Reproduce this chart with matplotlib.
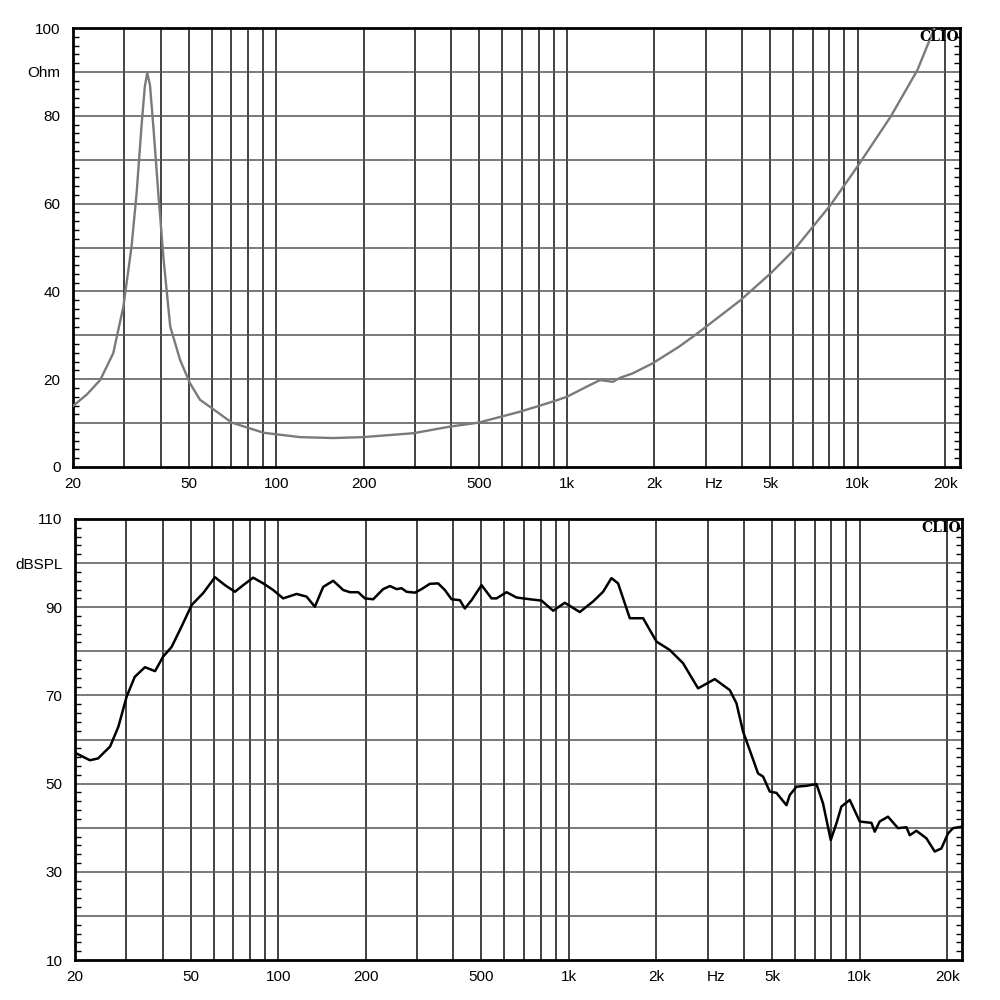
import matplotlib.pyplot as plt
from matplotlib.ticker import MultipleLocator

plt.rcParams['font.family'] = ['Liberation Sans', 'DejaVu Sans']

# impedance curve (Hz, Ohm)
imp_freq = [20, 22.3, 24.8, 27.5, 29.8, 31.8, 33.1, 34.4, 35.3, 36.0, 36.8, 37.8, 39.3,
            41.0, 43.2, 46.7, 50.5, 54.7, 59.2, 70.4, 90.5, 121, 157, 198, 297,
            396, 496, 690, 895, 1000, 1170, 1300, 1440, 1520, 1680, 1970, 2430,
            2807, 3956, 5017, 6036, 8072, 9977, 12990, 16050, 18080, 18600]
imp_ohm = [13.9, 16.5, 19.8, 25.9, 36.5, 50.2, 62.4, 77.5, 86.5, 89.8, 87.0, 77.5, 62.4,
           47.2, 32.0, 24.4, 19.1, 15.3, 13.7, 10.1, 7.8, 6.8, 6.6, 6.8, 7.7,
           9.2, 10.1, 12.6, 14.9, 16.0, 18.3, 19.8, 19.4, 20.3, 21.3, 23.6, 27.4,
           30.4, 38.0, 44.1, 49.4, 59.7, 68.4, 79.8, 90.4, 98.8, 101]

# SPL curve (Hz, dB)
spl_freq = [20, 22.5, 24.0, 26.4, 28.2, 30.1, 32.1, 34.8, 37.7, 40.2, 43.0, 46.5,
            50.4, 55.2, 60.6, 65.6, 71.0, 75.8, 82.0, 88.8, 96.1, 104, 115.7, 125.2,
            133.7, 142.8, 154.6, 167.3, 176.4, 188.4, 198.7, 212.2, 229.6, 242.2,
            255.5, 265.7, 276.4, 295.2, 311.3, 332.4, 354.9, 374.3, 394.8, 421.6,
            438.5, 462.6, 500.6, 541.8, 563.6, 610.3, 660.3, 733.9, 805.1, 882.5,
            968, 1090, 1211, 1311, 1401, 1476, 1620, 1800, 2001, 2223, 2470, 2782,
            3175, 3576, 3771, 3972, 4188, 4473, 4654, 4909, 5174, 5602, 5750, 6064,
            6564, 7105, 7484, 7956, 8324, 8658, 9248, 10010, 10980, 11270, 11720,
            12520, 13550, 14490, 14870, 15680, 16970, 18130, 19110, 20140, 20950, 22390]
spl_db = [57.0, 55.3, 55.7, 58.4, 62.9, 69.7, 74.2, 76.4, 75.5, 78.8, 81.0, 85.6,
          90.5, 93.2, 96.8, 95.0, 93.5, 95.0, 96.7, 95.4, 93.9, 92.0, 93.0, 92.4,
          90.1, 94.6, 96.0, 93.9, 93.4, 93.4, 92.0, 91.8, 94.1, 94.8,
          94.1, 94.3, 93.5, 93.3, 94.1, 95.3, 95.4, 93.9, 91.8, 91.6,
          89.7, 91.6, 95.0, 92.0, 92.0, 93.4, 92.2, 91.8, 91.5, 89.2,
          91.0, 88.9, 91.3, 93.5, 96.6, 95.4, 87.5, 87.5, 82.2, 80.3, 77.3, 71.6,
          73.7, 71.2, 68.2, 61.8, 57.6, 52.3, 51.6, 48.2, 47.9, 45.1, 47.4, 49.3,
          49.5, 49.9, 45.5, 37.2, 41.0, 44.8, 46.3, 41.4, 41.1, 39.1, 41.4,
          42.5, 39.9, 40.1, 38.3, 39.3, 37.6, 34.6, 35.3, 38.7, 39.9, 40.2]

# vertical grid frequencies and x labels
grid_freq = [30, 40, 50, 60, 70, 80, 90, 100, 200, 300, 400, 500, 600, 700, 800, 900,
             1000, 2000, 3000, 4000, 5000, 6000, 7000, 8000, 9000, 10000, 20000]
xlabel_pos = [20, 50, 100, 200, 500, 1000, 2000, 3220, 5000, 10000, 20000]
xlabel_txt = ['20', '50', '100', '200', '500', '1k', '2k', 'Hz', '5k', '10k', '20k']

imp_ticks = list(range(0, 101, 10))
imp_labels = ['0', '', '20', '', '40', '', '60', '', '80', 'Ohm', '100']
spl_ticks = list(range(10, 111, 10))
spl_labels = ['10', '', '30', '', '50', '', '70', '', '90', 'dBSPL', '110']

fig = plt.figure(figsize=(10, 10), dpi=100)
ax1 = fig.add_axes([0.073, 0.533, 0.887, 0.439])
ax2 = fig.add_axes([0.075, 0.040, 0.887, 0.441])


def style(ax, yticks, ylabels, ylim):
    ax.set_xscale('log')
    ax.set_xlim(20, 22500)
    ax.set_ylim(*ylim)
    for f in grid_freq:
        ax.axvline(f, color='#222222', lw=1.2, zorder=1)
    for y in yticks[1:-1]:
        ax.axhline(y, color='#555555', lw=1.1, zorder=1)
    ax.set_xticks(xlabel_pos, xlabel_txt)
    ax.xaxis.set_minor_locator(plt.NullLocator())
    ax.tick_params(axis='x', length=0, pad=7, labelsize=11)
    ax.set_yticks(yticks, ylabels)
    ax.yaxis.set_minor_locator(MultipleLocator(2))
    ax.tick_params(axis='y', which='major', length=0, pad=9, labelsize=11)
    ax.tick_params(axis='y', which='minor', direction='in', length=4, width=1,
                   left=True, right=True)
    for s in ax.spines.values():
        s.set_linewidth(2)
    ax.text(0.999, 0.996, 'CLIO', transform=ax.transAxes, ha='right', va='top',
            fontsize=10, fontweight='bold', family='DejaVu Serif', zorder=5)


style(ax1, imp_ticks, imp_labels, (0, 100))
style(ax2, spl_ticks, spl_labels, (10, 110))

ax1.plot(imp_freq, imp_ohm, color='#7a7a7a', lw=1.7, zorder=3)
ax2.plot(spl_freq, spl_db, color='black', lw=1.8, zorder=3)

plt.savefig('out.png', dpi=100)
